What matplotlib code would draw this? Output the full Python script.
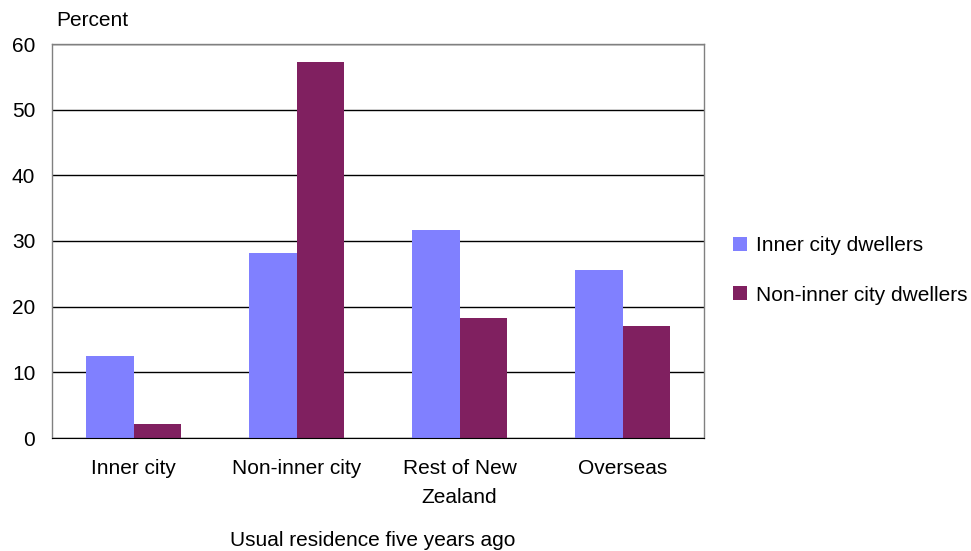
import numpy as np
import matplotlib.pyplot as plt

plt.rcParams['font.family'] = ['Liberation Sans', 'DejaVu Sans']

# data
categories = ['Inner city', 'Non-inner city', 'Rest of New\nZealand', 'Overseas']
inner_city = [12.5, 28.1, 31.7, 25.6]
non_inner_city = [2.1, 57.3, 18.3, 17.1]
series_names = ['Inner city dwellers', 'Non-inner city dwellers']

fs = 15

fig = plt.figure(figsize=(9.71, 5.51), dpi=100)
ax = fig.add_axes([52 / 971, 1 - 438 / 551, 652 / 971, 394 / 551])

x = np.arange(len(categories))
w = 0.29
ax.bar(x - w / 2, inner_city, w, color='#8080FF', label=series_names[0], zorder=3)
ax.bar(x + w / 2, non_inner_city, w, color='#802060', label=series_names[1], zorder=3)

ax.set_xlim(-0.5, len(categories) - 0.5)
ax.set_ylim(0, 60)
ax.set_yticks(range(0, 61, 10))
ax.set_xticks(x)
ax.set_xticklabels(categories, fontsize=fs, linespacing=1.7)
ax.tick_params(axis='y', length=0, pad=12, labelsize=fs)
ax.tick_params(axis='x', length=0, pad=15)
ax.yaxis.grid(True, color='black', linewidth=1.0, zorder=0)

for side in ['left', 'right', 'top']:
    ax.spines[side].set_color('#808080')
    ax.spines[side].set_linewidth(1.0)
ax.spines['bottom'].set_color('black')
ax.spines['bottom'].set_zorder(4)

fig.text(56 / 971, 1 - 21 / 551, 'Percent', fontsize=fs, va='center', ha='left')
fig.text(373 / 971, 1 - 541 / 551, 'Usual residence five years ago',
         fontsize=fs, va='center', ha='center')

ax.legend(loc='center left', bbox_to_anchor=(1.045, 0.425), frameon=False,
          fontsize=fs, handlelength=0.65, handleheight=0.65,
          handletextpad=0.45, labelspacing=1.45, borderaxespad=0,
          borderpad=0)

fig.savefig('out.png', dpi=100)
